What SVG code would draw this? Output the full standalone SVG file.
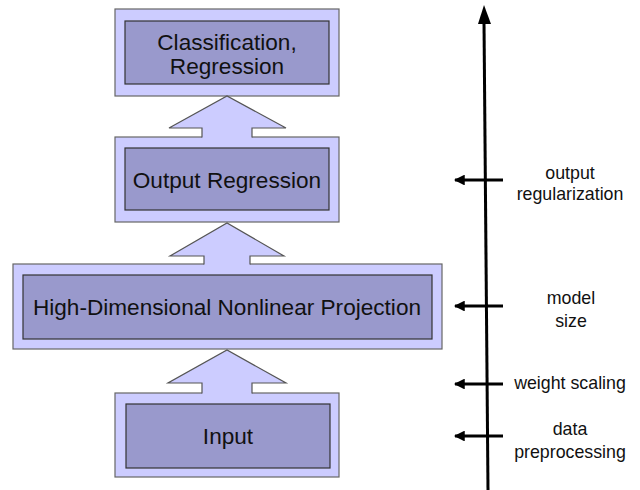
<svg xmlns="http://www.w3.org/2000/svg" width="640" height="490" viewBox="0 0 640 490">
<defs>
<style>
.outer{fill:#ccccff;stroke:#666;stroke-width:1.2}
.inner{fill:#9999cc;stroke:#333;stroke-width:1.2}
.bt{font-family:"Liberation Sans",Arial,sans-serif;font-size:22.6px;fill:#111;text-anchor:middle}
.lt{font-family:"Liberation Sans",Arial,sans-serif;font-size:17.8px;fill:#111;text-anchor:middle}
.af{fill:#ccccff;stroke:none}
.as{fill:none;stroke:#555;stroke-width:1.2}
.ax{stroke:#000;stroke-width:3;fill:none}
.tk{stroke:#000;stroke-width:3;fill:none}
</style>
<marker id="ah" viewBox="0 0 10 10" refX="9" refY="5" markerWidth="3.6" markerHeight="3.6" orient="auto">
<path d="M0,0 L10,5 L0,10 z" fill="#000"/>
</marker>
</defs>
<rect width="640" height="490" fill="#fff"/>
<g id="n-input">
<rect class="outer" x="115" y="393" width="224" height="84"/>
<rect class="inner" x="126" y="404" width="204" height="64"/>
<text class="bt" x="228" y="444">Input</text>
</g>
<g id="n-projection">
<rect class="outer" x="13" y="264" width="429" height="85"/>
<rect class="inner" x="23" y="275" width="409" height="64"/>
<text class="bt" x="227" y="315">High-Dimensional Nonlinear Projection</text>
</g>
<g id="n-output">
<rect class="outer" x="115" y="137" width="224" height="85"/>
<rect class="inner" x="125" y="148" width="204" height="62"/>
<text class="bt" x="227" y="188">Output Regression</text>
</g>
<g id="n-class">
<rect class="outer" x="115" y="9" width="224" height="87"/>
<rect class="inner" x="125" y="21" width="204" height="63"/>
<text class="bt" x="227" y="50">Classification,</text>
<text class="bt" x="227" y="74">Regression</text>
</g>
<g id="connectors">
<polygon class="af" points="227,350 286,383 252,383 252,395 202,395 202,383 168,383"/>
<polyline class="as" points="202,393.6 202,383 168,383 227,350 286,383 252,383 252,393.6"/>
<polygon class="af" points="227,223 284,256 250,256 250,266 204,266 204,256 170,256"/>
<polyline class="as" points="204,264.6 204,256 170,256 227,223 284,256 250,256 250,264.6"/>
<polygon class="af" points="227,96 286,128 252,128 252,139 202,139 202,128 169,128"/>
<polyline class="as" points="202,137.6 202,128 169,128 227,96 286,128 252,128 252,137.6"/>
<line class="ax" x1="488" y1="490" x2="484" y2="22"/>
<polygon points="484,5 478,24 491,24" fill="#000"/>
<line class="tk" x1="503" y1="180" x2="455" y2="180" marker-end="url(#ah)"/>
<line class="tk" x1="503" y1="306" x2="455" y2="306" marker-end="url(#ah)"/>
<line class="tk" x1="503" y1="384" x2="455" y2="384" marker-end="url(#ah)"/>
<line class="tk" x1="503" y1="436" x2="455" y2="436" marker-end="url(#ah)"/>
</g>
<g id="labels">
<text class="lt" x="570" y="179">output</text>
<text class="lt" x="570" y="200">regularization</text>
<text class="lt" x="571" y="304">model</text>
<text class="lt" x="571" y="327">size</text>
<text class="lt" x="570" y="389">weight scaling</text>
<text class="lt" x="570" y="435">data</text>
<text class="lt" x="570" y="458">preprocessing</text>
</g>
</svg>
